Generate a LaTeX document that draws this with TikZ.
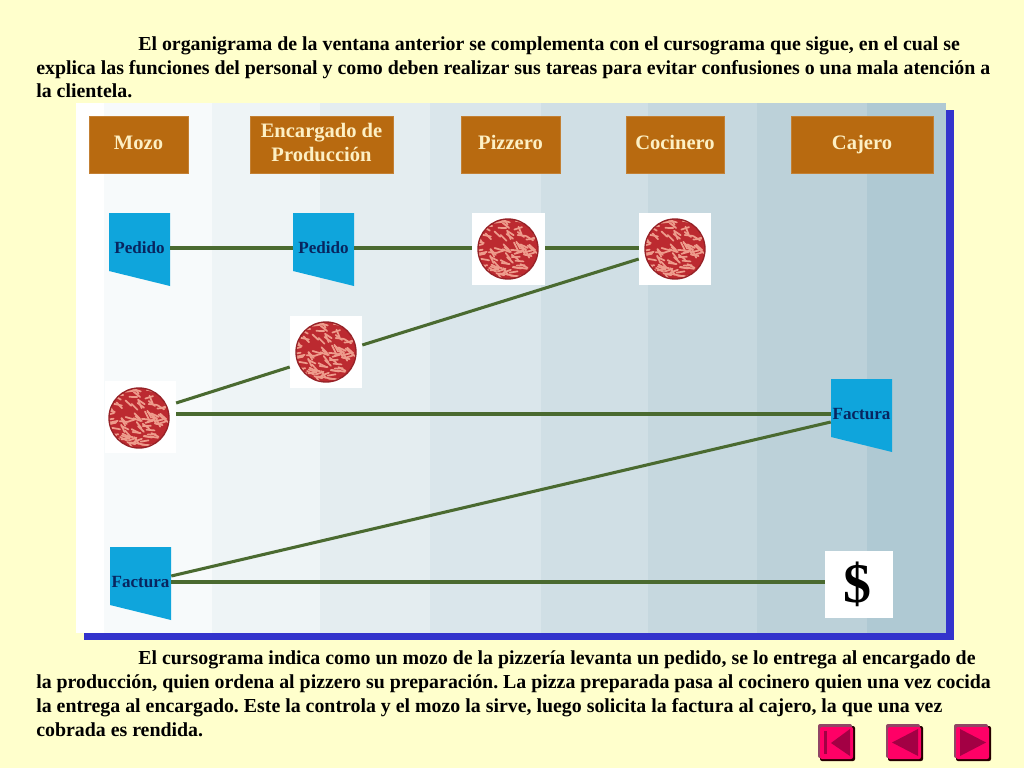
\documentclass[tikz,border=0pt]{standalone}
\usepackage{fontspec}
\setmainfont{Liberation Serif}
\usetikzlibrary{calc}
\definecolor{pagebg}{HTML}{FFFFCC}
\definecolor{panelblue}{HTML}{3333CC}
\definecolor{headbox}{HTML}{B86A10}
\definecolor{headtxt}{HTML}{FDF0C4}
\definecolor{docblue}{HTML}{0FA5DC}
\definecolor{doctxt}{HTML}{08255F}
\definecolor{linkgreen}{HTML}{4A6A30}
\definecolor{pizzared}{HTML}{BC2A30}
\definecolor{pizzapink}{HTML}{EE9C8C}
\definecolor{btnpink}{HTML}{FF0066}
\definecolor{btndark}{HTML}{A30044}
\definecolor{b1}{HTML}{F7FAFB}
\definecolor{b2}{HTML}{EEF4F6}
\definecolor{b3}{HTML}{E4EDF0}
\definecolor{b4}{HTML}{DAE6EB}
\definecolor{b5}{HTML}{D0DFE5}
\definecolor{b6}{HTML}{C6D8DF}
\definecolor{b7}{HTML}{BCD1D9}
\definecolor{b8}{HTML}{AFC9D3}
\tikzset{
  x=0.75pt,y=-0.75pt,
  bodytxt/.style={anchor=base west,inner sep=0pt,font=\fontsize{14.9pt}{17pt}\selectfont\bfseries,text=black},
  headnode/.style={fill=headbox,draw=headbox!85!white,line width=0.6pt,inner sep=0pt,align=center,text=headtxt,
    font=\fontsize{15.4pt}{18pt}\selectfont\bfseries,minimum height=42.75pt},
  docnode/.style={inner sep=0pt,minimum width=45.75pt,minimum height=54.75pt,text=doctxt,font=\fontsize{12.8pt}{14pt}\selectfont\bfseries},
  tilenode/.style={fill=white,inner sep=0pt,minimum width=54pt,minimum height=54pt},
  link/.style={draw=linkgreen,line width=2.3pt},
  pizza/.pic={
    \begin{scope}
      \clip (0,0) circle (30);
      \fill[pizzared] (0,0) circle (30);
      \pgfmathsetseed{4242}
      \foreach \i in {1,...,110}{
        \pgfmathsetmacro{\px}{rand*30}
        \pgfmathsetmacro{\py}{rand*30}
        \pgfmathsetmacro{\pa}{-25+rand*45}
        \draw[pizzapink,line width=1.3pt,line cap=round,rotate around={\pa:(\px,\py)}] (\px-4,\py) -- (\px+4,\py);
      }
    \end{scope}
    \draw[pizzared!80!black,line width=1pt] (0,0) circle (30);
  },
  btnbody/.style={fill=btnpink,rounded corners=1.5pt},
  btnmark/.style={fill=btndark},
}
\newcommand{\docshape}[4]{%
  \fill[docblue] (#2-30.5,#3-35) -- (#2+30.5,#3-35) -- (#2+30.5,#3+38) -- (#2-30.5,#3+23) -- cycle;
  \node[docnode] (#1) at (#2,#3) {#4};}
\newcommand{\navbtn}[1]{%
  \fill[black!85!red,rounded corners=1.5pt] (#1+2,726) rectangle (#1+37,761);
  \fill[btndark!45!gray,rounded corners=1.5pt] (#1,724) rectangle (#1+34,758);
  \fill[btnbody] (#1+2,727) rectangle (#1+35,759);}
\begin{document}
\frenchspacing
\begin{tikzpicture}
\useasboundingbox (0,0) rectangle (1024,768);
\fill[pagebg] (0,0) rectangle (1024,768);
% panel
\fill[panelblue] (84,110) rectangle (954,640);
\fill[white] (76,103) rectangle (946,633);
\fill[b1] (104,103) rectangle (212,633);
\fill[b2] (212,103) rectangle (320,633);
\fill[b3] (320,103) rectangle (430,633);
\fill[b4] (430,103) rectangle (541,633);
\fill[b5] (541,103) rectangle (648,633);
\fill[b6] (648,103) rectangle (757,633);
\fill[b7] (757,103) rectangle (867,633);
\fill[b8] (867,103) rectangle (946,633);
% headers
\node[headnode,minimum width=74.25pt] (hmozo) at (138.5,144.5) {\strut Mozo};
\node[headnode,minimum width=107.25pt] (henc) at (321.5,144.5) {\strut Encargado de\\\strut Producción};
\node[headnode,minimum width=74.25pt] (hpiz) at (510.5,144.5) {\strut Pizzero};
\node[headnode,minimum width=73.5pt] (hcoc) at (675,144.5) {\strut Cocinero};
\node[headnode,minimum width=106.5pt] (hcaj) at (862,144.5) {\strut Cajero};
% flow shapes
\docshape{pa}{139.5}{248}{Pedido}
\docshape{pb}{323.5}{248}{Pedido}
\docshape{fc}{861.5}{414}{Factura}
\docshape{fa}{140.5}{582}{Factura}
\node[tilenode,minimum width=54.75pt] (za) at (508.5,249) {};
\node[tilenode] (zb) at (675,249) {};
\node[tilenode] (zc) at (326,352) {};
\node[tilenode,minimum width=53pt] (zd) at (140.5,417) {};
\node[tilenode,minimum width=51pt,minimum height=50.25pt,font=\fontsize{42pt}{42pt}\selectfont\bfseries] (dol) at (859,584.5) {\raisebox{3pt}{\hspace*{-3pt}\$}};
\pic at (508,249) {pizza};
\pic at (675,249) {pizza};
\pic at (326,352) {pizza};
\pic at (139,418) {pizza};
% connectors
\draw[link] (pa.east) -- (pb.west);
\draw[link] (pb.east) -- ($(za.west)+(0,-1)$);
\draw[link] ($(za.east)+(0,-1)$) -- ($(zb.west)+(0,-1)$);
\draw[link] ($(zd.east)+(0,-14)$) -- ($(zc.west)+(0,15)$);
\draw[link] ($(zc.east)+(0,-7)$) -- ($(zb.west)+(0,10)$);
\draw[link] ($(zd.east)+(0,-3)$) -- (fc.west);
\draw[link] ($(fa.east)+(0,-6)$) -- ($(fc.west)+(0,8)$);
\draw[link] (fa.east) -- ($(dol.west)+(0,-2.5)$);
% text
\node[bodytxt] (t1) at (138,50) {El organigrama de la ventana anterior se complementa con el cursograma que sigue, en el cual se};
\node[bodytxt] (t2) at (36,74) {explica las funciones del personal y como deben realizar sus tareas para evitar confusiones o una mala atención a};
\node[bodytxt] (t3) at (36,97) {la clientela.};
\node[bodytxt] (t4) at (138,664) {El cursograma indica como un mozo de la pizzería levanta un pedido, se lo entrega al encargado de};
\node[bodytxt] (t5) at (36,688) {la producción, quien ordena al pizzero su preparación. La pizza preparada pasa al cocinero quien una vez cocida};
\node[bodytxt] (t6) at (36,712) {la entrega al encargado. Este la controla y el mozo la sirve, luego solicita la factura al cajero, la que una vez};
\node[bodytxt] (t7) at (36,736) {cobrada es rendida.};
% navigation buttons
\navbtn{818}
\fill[btnmark] (824,731) rectangle (827,754);
\fill[btnmark] (850,729) -- (850,756) -- (831,743) -- cycle;
\navbtn{886}
\fill[btnmark] (918,729) -- (918,756) -- (892,742.5) -- cycle;
\navbtn{954}
\fill[btnmark] (960,729) -- (960,756) -- (986,742.5) -- cycle;
\end{tikzpicture}
\end{document}
